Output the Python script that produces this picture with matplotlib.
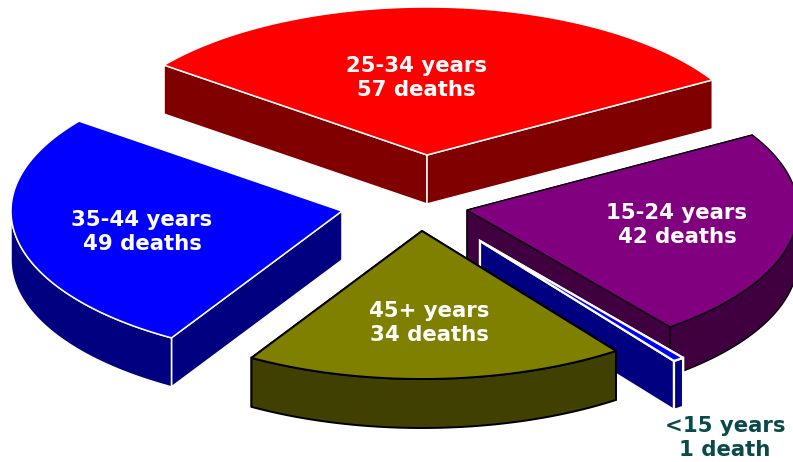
import numpy as np
import matplotlib
matplotlib.use('Agg')
import matplotlib.pyplot as plt
from matplotlib.patches import Polygon

# Slices, clockwise from the red one
groups = ['25-34 years', '15-24 years', '<15 years', '45+ years', '35-44 years']
deaths = [57, 42, 1, 34, 49]
death_words = ['57 deaths', '42 deaths', '1 death', '34 deaths', '49 deaths']

top_colors = ['#ff0000', '#800080', '#0000ff', '#808000', '#0000ff']
wall_colors = ['#800000', '#400040', '#000080', '#404000', '#000080']
edge_colors = ['white', 'black', 'white', 'black', 'white']
edge_widths = [1.1, 0.9, 1.6, 1.4, 1.1]
text_colors = ['white', 'white', '#0a4a4a', 'white', 'white']

# where each exploded slice has its point, in pixels
apex_x = [427, 467, 480, 422, 342]
apex_y = [155, 210, 241, 231, 211]
label_x = [416, 677, 725, 429, 142]
label_y = [78, 225, 438, 323, 232]
draw_order = [0, 4, 1, 2, 3]

rx, ry = 331, 148
depth = 49
start_angle = 142.6

fig = plt.figure(figsize=(7.93, 4.62), dpi=100)
ax = fig.add_axes([0, 0, 1, 1])
ax.set_xlim(0, 793)
ax.set_ylim(462, 0)
ax.axis('off')

total = sum(deaths)
ends = start_angle - np.cumsum(deaths) / total * 360
starts = np.r_[start_angle, ends[:-1]]


def rim(i, angles):
    a = np.deg2rad(angles)
    return apex_x[i] + rx * np.cos(a), apex_y[i] - ry * np.sin(a)


def face(i, xs, ys, color):
    ax.add_patch(Polygon(np.column_stack([xs, ys]), closed=True, facecolor=color,
                         edgecolor=edge_colors[i], linewidth=edge_widths[i],
                         joinstyle='miter', clip_on=True))


for i in draw_order:
    t1, t0 = starts[i], ends[i]
    # side walls, the one further back goes first
    for t in sorted([t0, t1], key=lambda v: -np.sin(np.deg2rad(v))):
        ex, ey = rim(i, t)
        face(i, [apex_x[i], ex, ex, apex_x[i]],
             [apex_y[i], ey, ey + depth, apex_y[i] + depth], wall_colors[i])
    # outer wall, only the part that faces the viewer
    arc = np.linspace(t0, t1, 200)
    arc = arc[np.sin(np.deg2rad(arc)) <= 0]
    if len(arc) > 1:
        ex, ey = rim(i, arc)
        face(i, np.r_[ex, ex[::-1]], np.r_[ey, ey[::-1] + depth], wall_colors[i])
    # top
    ex, ey = rim(i, np.linspace(t0, t1, 200))
    face(i, np.r_[apex_x[i], ex], np.r_[apex_y[i], ey], top_colors[i])

for i in range(len(groups)):
    ax.text(label_x[i], label_y[i], groups[i] + '\n' + death_words[i],
            color=text_colors[i], fontsize=15.3, fontweight='bold',
            family='DejaVu Sans', ha='center', va='center', linespacing=1.2)

fig.savefig('out.png', dpi=100)
